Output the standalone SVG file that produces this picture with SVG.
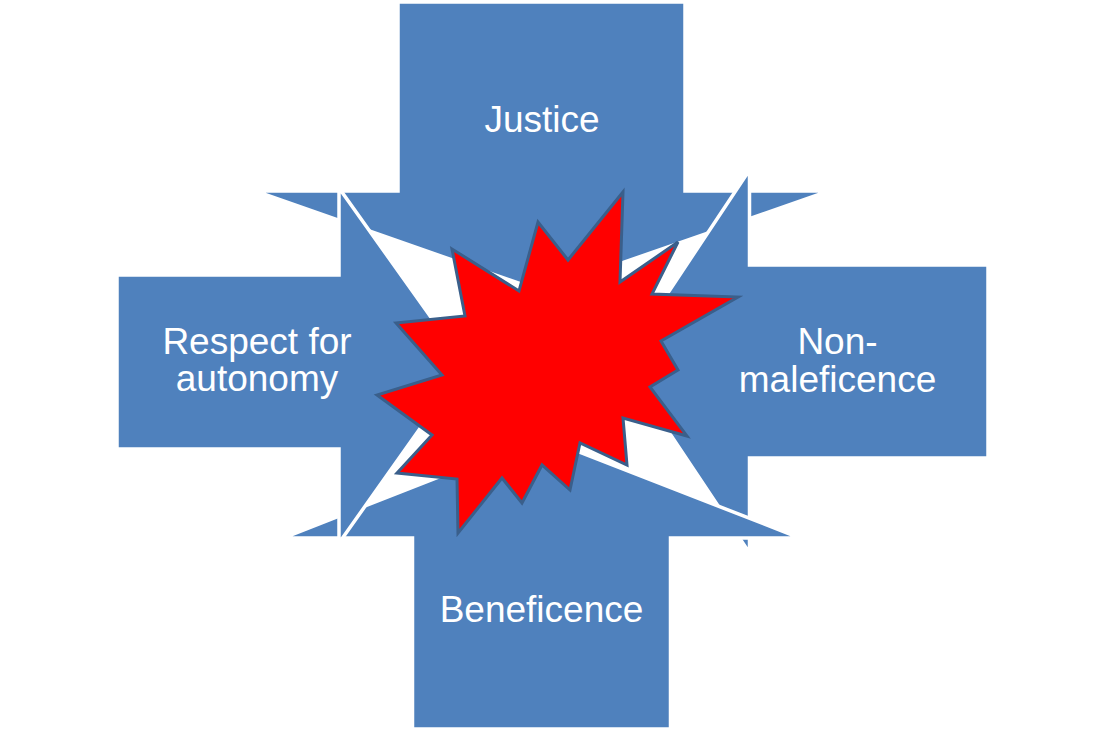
<svg xmlns="http://www.w3.org/2000/svg" width="1102" height="733" viewBox="0 0 1102 733">
  <style>
    .arrow { fill: #4F81BD; stroke: #FFFFFF; stroke-width: 3.5; stroke-linejoin: miter; stroke-miterlimit: 10; }
    .star { fill: #FF0000; stroke: #3A5F8B; stroke-width: 3; stroke-linejoin: miter; }
    .label { fill: #FFFFFF; font-family: "Liberation Sans", Arial, sans-serif; font-size: 37px; text-anchor: middle; }
  </style>
  <rect width="1102" height="733" fill="#FFFFFF"/>
  <g id="justice">
    <polygon class="arrow" points="398,2 685,2 685,191 829,191 541,291 255,191 398,191"/>
    <text class="label" x="542" y="132">Justice</text>
  </g>
  <g id="non-maleficence">
    <polygon class="arrow" points="988,265 749.5,265 749.5,170 622,362 749.5,553 749.5,458 988,458"/>
    <text class="label" x="837.5" y="353.5">Non-</text>
    <text class="label" x="837.5" y="391.5">maleficence</text>
  </g>
  <g id="beneficence">
    <polygon class="arrow" points="412.5,729 670.5,729 670.5,538 800,538 541,437 283,538 412.5,538"/>
    <text class="label" x="541.5" y="622">Beneficence</text>
  </g>
  <g id="respect-for-autonomy">
    <polygon class="arrow" points="117,275 339,275 339,188 465,365 339,543 339,449 117,449"/>
    <text class="label" x="257" y="353.5">Respect for</text>
    <text class="label" x="257" y="391">autonomy</text>
  </g>
  <g id="conflict">
    <polygon class="star" points="396,323 465,316 452,249 519,291 538,222 568,260 623,192 620,282 678,242 652,294 738,297 661,341 678,370 650,387 687,436 623,418 627,465 580,443 570,490 542,465 522,503 502,478 458,533 457,479 397,473 432,435 377,395 442,375"/>
  </g>
  <g id="connectors"/>
</svg>
